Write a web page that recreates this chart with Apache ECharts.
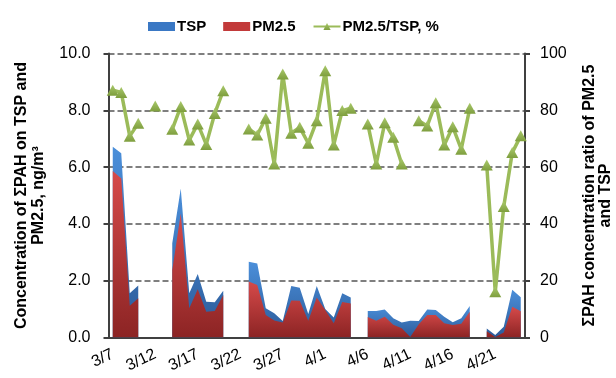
<!DOCTYPE html>
<html><head><meta charset="utf-8">
<script src="https://cdn.jsdelivr.net/npm/echarts@6/dist/echarts.min.js"></script>
<style>html,body{margin:0;padding:0;background:#fff}#c{width:616px;height:378px}</style>
</head><body><div id="c"></div>
<script>
const dates = ['3/7','3/8','3/9','3/10','3/11','3/12','3/13','3/14','3/15','3/16','3/17','3/18','3/19','3/20','3/21','3/22','3/23','3/24','3/25','3/26','3/27','3/28','3/29','3/30','3/31',
  '4/1','4/2','4/3','4/4','4/5','4/6','4/7','4/8','4/9','4/10','4/11','4/12','4/13','4/14','4/15','4/16','4/17','4/18','4/19','4/20','4/21','4/22','4/23','4/24'];
const tsp = [6.72,6.49,1.56,1.83,null,null,null,3.32,5.25,1.56,2.24,1.26,1.24,1.65,null,null,2.67,2.61,1.03,0.85,0.58,1.81,1.75,0.83,1.81,1.00,0.70,1.56,1.41,null,0.93,0.93,0.99,0.68,0.53,0.59,0.58,0.99,0.97,0.73,0.54,0.68,1.11,null,0.32,0.09,0.38,1.68,1.42];
const pm25 = [5.86,5.60,1.12,1.38,null,null,null,2.38,4.37,1.03,1.70,0.91,0.93,1.50,null,null,1.97,1.85,0.79,0.60,0.53,1.30,1.29,0.59,1.41,0.97,0.50,1.25,1.20,null,0.72,0.59,0.73,0.45,0.33,0.02,0.47,0.79,0.79,0.50,0.44,0.48,0.91,null,0.22,0.02,0.18,1.08,0.92];
const ratio = [87.1,86.3,70.9,75.4,null,81.5,null,73.3,81.3,69.5,75.2,68.0,78.9,86.9,null,null,73.4,71.3,77.2,61.1,92.8,71.9,74.0,68.4,76.3,93.9,67.8,79.9,80.7,null,75.2,61.1,75.6,70.5,61.1,null,76.3,74.5,82.7,67.8,74.2,66.3,80.7,null,60.7,16.1,46.1,65.1,71.0];
const leftAxis = {min: 0, max: 10, step: 2};
const rightAxis = {min: 0, max: 100, step: 20};

const FONT = '"Liberation Sans", Arial, sans-serif';

function splitSegments(arr) {
  const segs = [];
  let cur = null;
  arr.forEach((v, i) => {
    if (v == null) { cur = null; }
    else { if (!cur) { cur = []; segs.push(cur); } cur.push(i); }
  });
  return segs.map(idx => arr.map((v, i) => idx.indexOf(i) >= 0 ? v : null));
}
function grad(top, bottom) {
  return new echarts.graphic.LinearGradient(0, 0, 0, 1, [{offset: 0, color: top}, {offset: 1, color: bottom}]);
}
function areaSeries(name, arr, top, bottom, solid, z) {
  return splitSegments(arr).map(d => ({
    name: name, type: 'line', data: d, yAxisIndex: 0,
    symbol: 'none', showSymbol: false, connectNulls: false,
    lineStyle: {width: 0, color: solid},
    itemStyle: {color: solid},
    areaStyle: {color: grad(top, bottom), opacity: 1},
    z: z, silent: true
  }));
}

const chart = echarts.init(document.getElementById('c'), null, {renderer: 'canvas'});
const series = [].concat(
  areaSeries('TSP', tsp, '#4b8fda', '#2b5a98', '#3a78c4', 2),
  areaSeries('PM2.5', pm25, '#d64a4a', '#8c2424', '#c23a3a', 3),
  [{
    name: 'PM2.5/TSP, %', type: 'line', data: ratio, yAxisIndex: 1,
    symbol: 'triangle', symbolSize: [12, 11], showSymbol: true, showAllSymbol: true, connectNulls: false,
    lineStyle: {color: '#9bbb59', width: 3.5},
    itemStyle: {color: grad('#a9c96b', '#7e9e3e')},
    z: 5
  }]
);

chart.setOption({
  animation: false,
  textStyle: {fontFamily: FONT},
  legend: {
    left: 143, top: 14, itemGap: 17, itemWidth: 27, itemHeight: 9,
    textStyle: {fontSize: 15, fontWeight: 'bold', color: '#000', fontFamily: FONT, padding: [0, 0, 0, -3]},
    data: [{name: 'TSP', icon: 'rect'}, {name: 'PM2.5', icon: 'rect'}, {name: 'PM2.5/TSP, %'}]
  },
  grid: {left: 108.5, right: 91, top: 53.5, bottom: 40.5, containLabel: false, outerBoundsMode: 'none'},
  xAxis: {
    type: 'category', data: dates, boundaryGap: true,
    axisLine: {lineStyle: {color: '#404040', width: 2}},
    axisTick: {interval: 4, length: 6, lineStyle: {color: '#404040', width: 2}},
    axisLabel: {interval: 4, rotate: 25, fontSize: 16, color: '#000', margin: 16, fontFamily: FONT},
    splitLine: {show: false}
  },
  yAxis: [{
    type: 'value', position: 'left', min: leftAxis.min, max: leftAxis.max, interval: leftAxis.step,
    name: 'Concentration of ΣPAH on TSP and\nPM2.5, ng/m³', nameLocation: 'middle', nameRotate: 90, nameGap: 61,
    nameTextStyle: {fontSize: 16, fontWeight: 'bold', color: '#000', lineHeight: 17, fontFamily: FONT},
    axisLine: {show: true, lineStyle: {color: '#404040', width: 2}},
    axisTick: {show: true, length: 5, lineStyle: {color: '#404040', width: 2}},
    axisLabel: {formatter: v => v.toFixed(1), fontSize: 16, color: '#000', margin: 18, fontFamily: FONT},
    splitLine: {show: true, lineStyle: {type: [6, 3], color: '#555', width: 1.5}}
  }, {
    type: 'value', position: 'right', min: rightAxis.min, max: rightAxis.max, interval: rightAxis.step,
    name: 'ΣPAH concentration ratio of PM2.5\nand TSP', nameLocation: 'middle', nameRotate: 90, nameGap: 57,
    nameTextStyle: {fontSize: 16, fontWeight: 'bold', color: '#000', lineHeight: 16, fontFamily: FONT},
    axisLine: {show: true, lineStyle: {color: '#404040', width: 2}},
    axisTick: {show: true, length: 5, lineStyle: {color: '#404040', width: 2}},
    axisLabel: {fontSize: 16, color: '#000', margin: 15, fontFamily: FONT},
    splitLine: {show: false}
  }],
  series: series
});
</script>
</body></html>
